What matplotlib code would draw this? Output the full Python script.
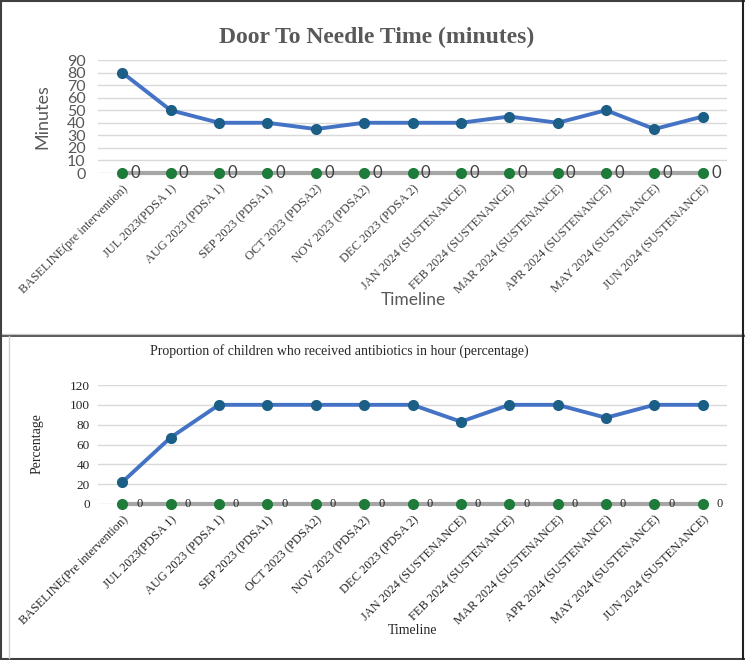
import matplotlib
matplotlib.use("Agg")
import matplotlib.pyplot as plt
from matplotlib.lines import Line2D

categories = ["BASELINE(pre intervention)", "JUL 2023(PDSA 1)", "AUG 2023 (PDSA 1)",
              "SEP 2023 (PDSA1)", "OCT 2023 (PDSA2)", "NOV 2023 (PDSA2)", "DEC 2023 (PDSA 2)",
              "JAN 2024 (SUSTENANCE)", "FEB 2024 (SUSTENANCE)", "MAR 2024 (SUSTENANCE)",
              "APR 2024 (SUSTENANCE)", "MAY 2024 (SUSTENANCE)", "JUN 2024 (SUSTENANCE)"]
categories2 = ["BASELINE(Pre intervention)"] + categories[1:]
door_to_needle = [80, 50, 40, 40, 35, 40, 40, 40, 45, 40, 50, 35, 45]
zero_series = [0] * 13
antibiotics_pct = [22, 67, 100, 100, 100, 100, 100, 83, 100, 100, 87, 100, 100]
yticks_top = [0, 10, 20, 30, 40, 50, 60, 70, 80, 90]
yticks_bot = [0, 20, 40, 60, 80, 100, 120]

W, H = 745, 660
fig = plt.figure(figsize=(W / 100, H / 100), dpi=100)

def fx(px):
    return px / W

def fy(py):
    return 1 - py / H

# frames
def hline(y, x0, x1, color, lw):
    fig.add_artist(Line2D([fx(x0), fx(x1)], [fy(y), fy(y)], color=color, lw=lw, transform=fig.transFigure))

def vline(x, y0, y1, color, lw):
    fig.add_artist(Line2D([fx(x), fx(x)], [fy(y0), fy(y1)], color=color, lw=lw, transform=fig.transFigure))

hline(0.8, 0, 745, "#404040", 1.5)
hline(334, 0, 745, "#c8c8c8", 1.0)
hline(335.5, 0, 745, "#404040", 1.2)
hline(658.5, 0, 745, "#404040", 1.5)
vline(0.8, 0, 660, "#404040", 1.5)
vline(743, 0, 660, "#202020", 1.5)
vline(8.5, 336, 658, "#d0d0d0", 1.0)

BLUE = "#4472C4"
MARK = "#1b5e86"
GREEN = "#1e7b3a"
GRAY0 = "#a6a6a6"
x = list(range(len(categories)))

def style_axes(ax):
    for s in ax.spines.values():
        s.set_visible(False)
    ax.tick_params(length=0)
    ax.grid(axis="y", color="#d9d9d9", lw=1.0)
    ax.set_axisbelow(True)
    ax.set_xlim(-0.5, len(categories) - 0.5)

# ---------- top chart ----------
ax1 = fig.add_axes([fx(98), fy(173), fx(727) - fx(98), fy(60) - fy(173)])
style_axes(ax1)
ax1.set_ylim(0, 90)
ax1.set_yticks(yticks_top)
ax1.set_yticklabels([str(v) for v in yticks_top], fontsize=11.5, color="#595959", family="Lato")
ax1.tick_params(axis="y", pad=9)
ax1.plot(x, zero_series, color=GRAY0, lw=3, zorder=3, clip_on=False)
ax1.plot(x, zero_series, "o", color=GREEN, ms=7, zorder=4, clip_on=False)
ax1.plot(x, door_to_needle, color=BLUE, lw=2.8, zorder=5, clip_on=False)
ax1.plot(x, door_to_needle, "o", color=MARK, ms=7, zorder=6, clip_on=False)
for xi, v in zip(x, zero_series):
    ax1.annotate(str(v), (xi, v), xytext=(6, 0), textcoords="offset points",
                 ha="left", va="center", fontsize=12, color="#404040", family="Lato")
ax1.set_xticks(x)
ax1.set_xticklabels(categories, rotation=45, ha="right", rotation_mode="anchor",
                    fontsize=9, color="#404040", family="Liberation Serif")
ax1.tick_params(axis="x", pad=7)
fig.text(fx(42), fy(117), "Minutes", rotation=90, ha="center", va="center",
         fontsize=13, color="#595959", family="Lato")
fig.text(fx(413), fy(300), "Timeline", ha="center", va="center",
         fontsize=12.5, color="#595959", family="Lato")
fig.text(fx(377), fy(37), "Door To Needle Time (minutes)", ha="center", va="center",
         fontsize=17, fontweight="bold", color="#595959", family="Liberation Serif")

# ---------- bottom chart ----------
ax2 = fig.add_axes([fx(98), fy(504), fx(727) - fx(98), fy(385) - fy(504)])
style_axes(ax2)
ax2.set_ylim(0, 120)
ax2.set_yticks(yticks_bot)
ax2.set_yticklabels([str(v) for v in yticks_bot], fontsize=9.5, color="#262626", family="Liberation Serif")
ax2.tick_params(axis="y", pad=6)
ax2.plot(x, zero_series, color=GRAY0, lw=3, zorder=3, clip_on=False)
ax2.plot(x, zero_series, "o", color=GREEN, ms=7, zorder=4, clip_on=False)
ax2.plot(x, antibiotics_pct, color=BLUE, lw=2.8, zorder=5, clip_on=False)
ax2.plot(x, antibiotics_pct, "o", color=MARK, ms=7, zorder=6, clip_on=False)
for xi, v in zip(x, zero_series):
    ax2.annotate(str(v), (xi, v), xytext=(10, 0), textcoords="offset points",
                 ha="left", va="center", fontsize=9, color="#262626", family="Liberation Serif")
ax2.set_xticks(x)
ax2.set_xticklabels(categories2, rotation=45, ha="right", rotation_mode="anchor",
                    fontsize=9, color="#262626", family="Liberation Serif")
ax2.tick_params(axis="x", pad=7)
fig.text(fx(37), fy(444), "Percentage", rotation=90, ha="center", va="center",
         fontsize=10, color="#262626", family="Liberation Serif")
fig.text(fx(413), fy(631), "Timeline", ha="center", va="center",
         fontsize=10, color="#262626", family="Liberation Serif")
fig.text(fx(339), fy(351), "Proportion of children who received antibiotics in hour (percentage)",
         ha="center", va="center", fontsize=10, color="#262626", family="Liberation Serif")

fig.savefig("out.png", dpi=100)
